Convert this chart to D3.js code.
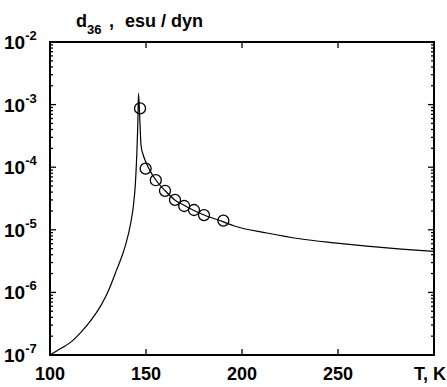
<!DOCTYPE html>
<html>
<head>
<meta charset="utf-8">
<script src="https://cdn.jsdelivr.net/npm/d3@7"></script>
<style>
  body { margin: 0; background: #fff; }
  text { font-family: Arial, "Liberation Sans", sans-serif; font-weight: bold; fill: #000; }
</style>
</head>
<body>
<div id="chart"></div>
<script>
// curve (model) values
const curveT = [100, 106, 111, 116.3, 121.5, 126.7, 130.2, 134.7, 139.1, 142, 143.5, 144.5, 145.2, 145.7, 146.1, 146.9, 147.4, 148.6, 149.8, 152, 155, 160, 165, 170, 175, 180, 190, 196, 213, 230, 248, 265, 283, 300];
const curveD = [1.0e-7, 1.29e-7, 1.62e-7, 2.34e-7, 3.63e-7, 6.31e-7, 1.02e-6, 2.29e-6, 5.37e-6, 1.26e-5, 2.51e-5, 5.62e-5, 1.58e-4, 4.47e-4, 1.51e-3, 4.7e-4, 2.24e-4, 1.55e-4, 1.23e-4, 8.9e-5, 6.3e-5, 4.2e-5, 3.0e-5, 2.45e-5, 2.04e-5, 1.74e-5, 1.35e-5, 1.15e-5, 8.9e-6, 7.2e-6, 6.2e-6, 5.5e-6, 4.93e-6, 4.52e-6];

// measured points
const pointT = [146.9, 149.8, 155.1, 159.9, 165.1, 169.9, 175, 180.2, 190.3];
const pointD = [8.7e-4, 9.5e-5, 6.2e-5, 4.2e-5, 3.0e-5, 2.4e-5, 2.07e-5, 1.72e-5, 1.40e-5];

const xTicks = [100, 150, 200, 250];
const yExponents = [-2, -3, -4, -5, -6, -7];

const dimensions = {
  width: 447,
  height: 387,
  margin: { top: 42, bottom: 32, left: 50, right: 13 },
};
const containerWidth = dimensions.width - dimensions.margin.left - dimensions.margin.right;
const containerHeight = dimensions.height - dimensions.margin.top - dimensions.margin.bottom;

const svg = d3.select("#chart")
  .append("svg")
  .attr("width", dimensions.width)
  .attr("height", dimensions.height);

const ctr = svg.append("g")
  .attr("transform", `translate(${dimensions.margin.left}, ${dimensions.margin.top})`);

const xScale = d3.scaleLinear().domain([100, 300]).range([0, containerWidth]);
const yScale = d3.scaleLog().domain([1e-7, 1e-2]).range([containerHeight, 0]);

// minor + major log ticks
const yAllTicks = yScale.ticks();
const isMajor = (d) => Math.abs(Math.log10(d) - Math.round(Math.log10(d))) < 1e-9;

const tickG = ctr.append("g").attr("stroke", "#000").attr("stroke-width", 1.3);
// left and right y ticks
[0, containerWidth].forEach((x0, k) => {
  const dir = k === 0 ? 1 : -1;
  tickG.selectAll(null)
    .data(yAllTicks)
    .join("line")
    .attr("x1", x0)
    .attr("x2", (d) => x0 + dir * (isMajor(d) ? 6 : 3))
    .attr("y1", (d) => yScale(d))
    .attr("y2", (d) => yScale(d));
});
// bottom and top x ticks
[containerHeight, 0].forEach((y0, k) => {
  const dir = k === 0 ? -1 : 1;
  tickG.selectAll(null)
    .data(xTicks.slice(1))
    .join("line")
    .attr("x1", (d) => xScale(d))
    .attr("x2", (d) => xScale(d))
    .attr("y1", y0)
    .attr("y2", y0 + dir * 6);
});

// frame
ctr.append("rect")
  .attr("width", containerWidth)
  .attr("height", containerHeight)
  .attr("fill", "none")
  .attr("stroke", "#000")
  .attr("stroke-width", 2);

// curve
const line = d3.line()
  .x((d, i) => xScale(curveT[i]))
  .y((d) => yScale(d))
  .curve(d3.curveMonotoneX);

ctr.append("path")
  .attr("d", line(curveD))
  .attr("fill", "none")
  .attr("stroke", "#000")
  .attr("stroke-width", 1.2);

// points
ctr.selectAll("circle")
  .data(pointD)
  .join("circle")
  .attr("cx", (d, i) => xScale(pointT[i]))
  .attr("cy", (d) => yScale(d))
  .attr("r", 5.5)
  .attr("fill", "none")
  .attr("stroke", "#000")
  .attr("stroke-width", 1.3);

// x tick labels
ctr.selectAll(".xlabel")
  .data(xTicks)
  .join("text")
  .attr("x", (d) => xScale(d))
  .attr("y", containerHeight + 25)
  .attr("text-anchor", "middle")
  .style("font-size", "18px")
  .text((d) => d);

// y tick labels
const yLabels = ctr.selectAll(".ylabel")
  .data(yExponents)
  .join("text")
  .attr("x", -46)
  .attr("y", (d) => yScale(Math.pow(10, d)) + 7)
  .style("font-size", "19px");
yLabels.append("tspan").text("10");
yLabels.append("tspan")
  .attr("dy", -9)
  .style("font-size", "13px")
  .text((d) => "-" + Math.abs(d));

// axis titles
const title = svg.append("text")
  .attr("y", 27)
  .style("font-size", "18px");
title.append("tspan").attr("x", 76).text("d");
title.append("tspan").attr("dy", 7).style("font-size", "13px").text("36");
title.append("tspan").attr("x", 109).attr("dy", -7).text(",");
title.append("tspan").attr("x", 125).text("esu / dyn");

svg.append("text")
  .attr("x", 446)
  .attr("y", 380)
  .attr("text-anchor", "end")
  .style("font-size", "18px")
  .text("T, K");
</script>
</body>
</html>
